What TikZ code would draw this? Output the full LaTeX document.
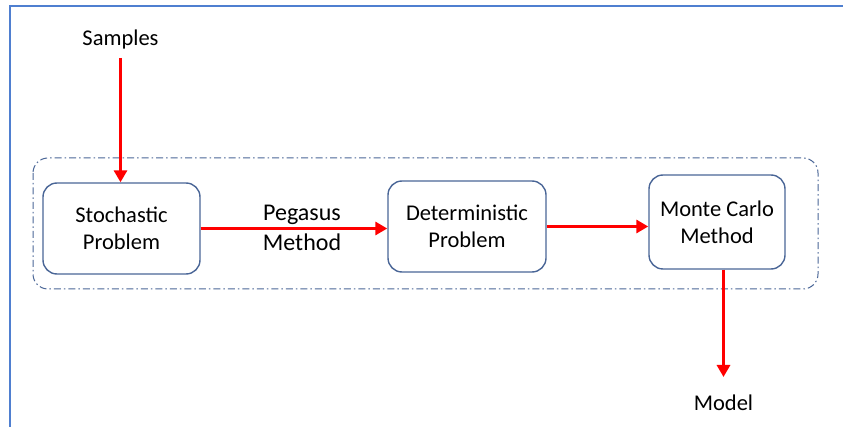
\documentclass[tikz,border=0pt]{standalone}
\usepackage{fontspec}
\setmainfont{Carlito}
\usetikzlibrary{arrows.meta}
\definecolor{frameblue}{HTML}{4F7FD0}
\definecolor{boxblue}{HTML}{4A6697}
\definecolor{arrowred}{HTML}{FF0000}
\tikzset{
  procbox/.style={draw=boxblue, line width=1.4pt, rounded corners=14pt, fill=white,
    minimum width=157pt, minimum height=91pt, inner sep=0pt,
    font=\fontsize{22.5}{27}\selectfont, align=center, text=black},
  plain/.style={inner sep=0pt, font=\fontsize{22.5}{27}\selectfont, text=black},
  flow/.style={draw=arrowred, line width=3.6pt, -{Triangle[length=12pt,width=13pt]}},
}
\begin{document}
\begin{tikzpicture}[x=1pt,y=-1pt]
\useasboundingbox (0,0) rectangle (843,427);
\fill[white] (0,0) rectangle (843,427);
% page frame (top and left edges)
\draw[frameblue, line width=2pt] (10,427) -- (10,6) -- (843,6);
% dash-dotted grouping outline
\draw[boxblue, line width=1pt, dash pattern=on 7pt off 3pt on 1.5pt off 3pt, rounded corners=15pt]
  (33,158) rectangle (818,289);
% process boxes
\node[procbox] (sto) at (121.5,228.5) {Stochastic\\Problem};
\node[procbox, minimum width=158pt] (det) at (467,226.5) {Deterministic\\Problem};
\node[procbox, minimum width=136pt, minimum height=94pt] (mc) at (717,222) {Monte Carlo\\Method};
% input and output labels
\node[plain] (samples) at (120.5,40) {Samples};
\node[plain] (model) at (723.5,403) {Model};
\coordinate (sampout) at (120.5,58);
\coordinate (modelin) at (723.5,377);
% connectors
\draw[flow] (sampout) -- (sampout |- sto.north);
\draw[flow] (sto.east) -- (sto.east -| det.west)
  node[midway, font=\fontsize{24}{30}\selectfont, align=center, text=black, inner sep=0pt, xshift=8pt, yshift=1pt] (peg) {Pegasus\\Method};
\draw[flow] (det.east) -- (det.east -| mc.west);
\draw[flow] (mc.south -| modelin) -- (modelin);
\end{tikzpicture}
\end{document}
